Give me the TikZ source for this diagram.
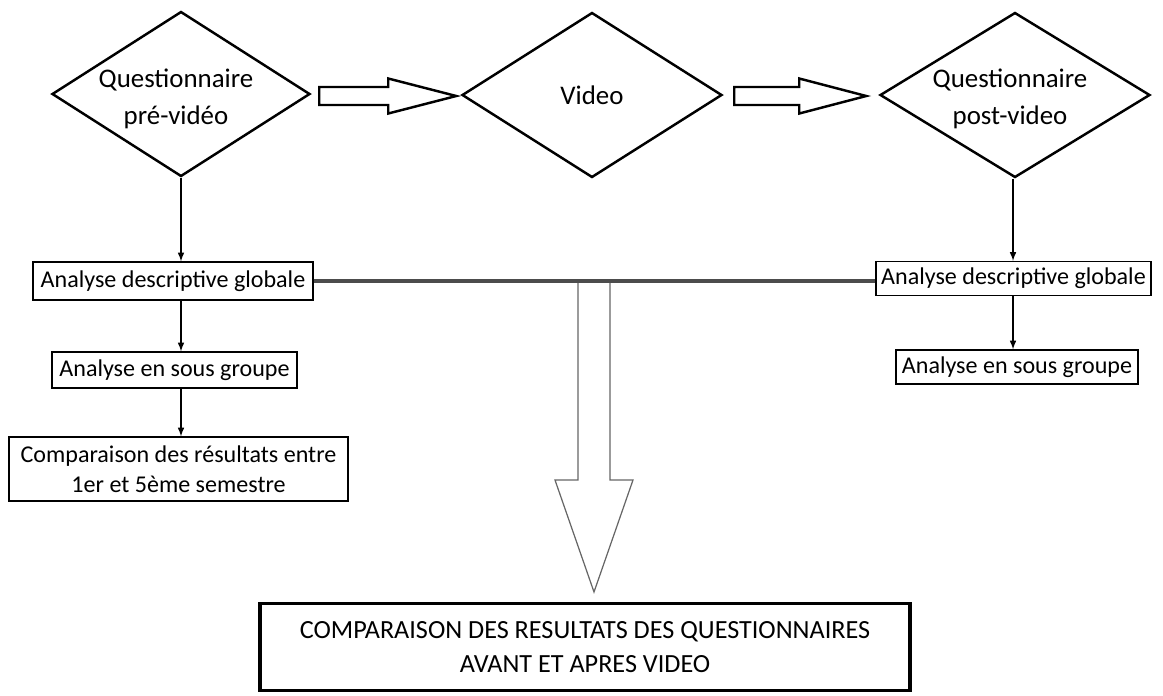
\documentclass[tikz,border=0pt]{standalone}
\usepackage{fontspec}
\setmainfont{Carlito}
\usetikzlibrary{shapes.geometric,calc}

\begin{document}
\begin{tikzpicture}[
  losange/.style={draw,line width=1.4pt,diamond,aspect=1.55,inner sep=0pt,
    minimum width=5.2cm,minimum height=3.3cm},
  texte/.style={align=center,inner sep=0pt,font=\fontsize{15.3}{21}\selectfont},
  boite/.style={draw,line width=0.8pt,inner sep=0pt,inner xsep=2pt,align=center,
    font=\fontsize{13.7}{17}\selectfont},
  fleche/.style={-latex,line width=0.7pt},
  bloc/.style={line width=1.4pt,line join=miter},
  grosse/.style={line width=0.7pt,draw=black!60}
]
\useasboundingbox (0,0) rectangle (23.26,-13.9);

% les trois etapes
\node[losange,minimum width=5.16cm] (quest1) at (3.62,-1.88) {};
\node[texte] (tquest1) at ($(quest1)+(-0.1,-0.1)$) {Questionnaire\\pré-vidéo};
\node[losange] (video) at (11.84,-1.9) {};
\node[texte] (tvideo) at (video) {Video};
\node[losange,minimum width=5.4cm] (quest2) at (20.3,-1.9) {};
\node[texte] (tquest2) at ($(quest2)+(-0.1,-0.08)$) {Questionnaire\\post-video};

\draw[bloc] ($(quest1.east)+(0.16,0.14)$) -- ++(1.38,0) -- ++(0,0.17) -- ++(1.36,-0.35)
  -- ++(-1.36,-0.35) -- ++(0,0.17) -- ++(-1.38,0) -- cycle;
\draw[bloc] ($(video.east)+(0.22,0.16)$) -- ++(1.3,0) -- ++(0,0.17) -- ++(1.34,-0.35)
  -- ++(-1.34,-0.35) -- ++(0,0.17) -- ++(-1.3,0) -- cycle;

% analyses
\node[boite,minimum width=5.6cm,minimum height=0.76cm] (glob1) at (3.46,-5.62) {Analyse descriptive globale};
\node[boite,minimum width=4.9cm,minimum height=0.72cm] (sous1) at (3.49,-7.4) {Analyse en sous groupe};
\node[boite,minimum width=6.78cm,minimum height=1.28cm] (semes) at (3.57,-9.38) {Comparaison des résultats entre\\1er et 5ème semestre};
\node[boite,minimum width=5.5cm,minimum height=0.68cm] (glob2) at (20.27,-5.57) {Analyse descriptive globale};
\node[boite,minimum width=4.84cm,minimum height=0.68cm] (sous2) at (20.34,-7.34) {Analyse en sous groupe};

\draw[fleche] (quest1.south) -- (quest1.south |- glob1.north);
\draw[fleche] (glob1.south -| quest1.south) -- (sous1.north -| quest1.south);
\draw[fleche] (sous1.south -| quest1.south) -- (semes.north -| quest1.south);
\draw[fleche] ($(quest2.south)+(-0.04,0)$) -- ($(quest2.south |- glob2.north)+(-0.04,0)$);
\draw[fleche] ($(glob2.south -| quest2.south)+(-0.04,0)$) -- ($(sous2.north -| quest2.south)+(-0.04,0)$);

% comparaison finale
\node[draw,line width=2pt,minimum width=13cm,minimum height=1.74cm,align=center,
  font=\fontsize{14.9}{19.3}\selectfont] (final) at (11.7,-12.94)
  {COMPARAISON DES RESULTATS DES QUESTIONNAIRES\\AVANT ET APRES VIDEO};

\draw[line width=1.8pt,black!70] (glob1.east) -- (glob1.east -| glob2.west);
\coordinate (haut) at (11.88,0 |- glob1.east);
\draw[grosse] ($(haut)+(-0.32,-0.04)$) -- ++(0,-3.94) -- ++(-0.46,0) -- ++(0.78,-2.24)
  -- ++(0.78,2.24) -- ++(-0.46,0) -- ++(0,3.94);
\end{tikzpicture}
\end{document}
